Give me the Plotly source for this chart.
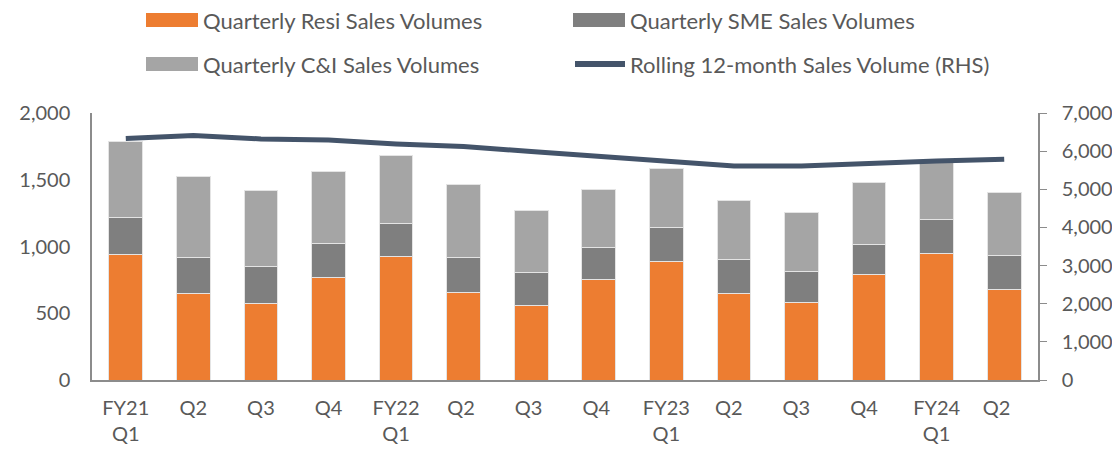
import plotly.graph_objects as go

# quarter labels (two-line ticks)
quarters = ['FY21<br>Q1', 'Q2', 'Q3', 'Q4', 'FY22<br>Q1', 'Q2 ', 'Q3 ', 'Q4 ',
            'FY23<br>Q1', 'Q2  ', 'Q3  ', 'Q4  ', 'FY24<br>Q1', 'Q2   ']

resi = [942, 646, 573, 771, 927, 653, 560, 754, 886, 649, 579, 789, 951, 679]
sme = [272, 274, 274, 254, 247, 267, 242, 237, 253, 250, 233, 227, 255, 250]
ci = [575, 603, 570, 538, 507, 545, 465, 435, 444, 444, 444, 465, 427, 477]
rolling = [6330, 6410, 6320, 6290, 6190, 6120, 5990, 5860, 5750, 5610, 5610, 5690, 5740, 5790]

names = ['Quarterly Resi Sales Volumes', 'Quarterly SME Sales Volumes',
         'Quarterly C&I Sales Volumes', 'Rolling 12-month Sales Volume (RHS)']
colors = ['#ED7D31', '#7F7F7F', '#A5A5A5', '#44546A']

FONT = 'Lato, Open Sans, sans-serif'
TXT = '#595959'

fig = go.Figure()
for vals, nm, c in zip([resi, sme, ci], names[:3], colors[:3]):
    fig.add_trace(go.Bar(x=quarters, y=vals, name=nm, marker_color=c,
                         marker_line=dict(color='#E4E4E4', width=1)))
fig.add_trace(go.Scatter(x=quarters, y=rolling, name=names[3], yaxis='y2',
                         mode='lines', line=dict(color=colors[3], width=5)))

# the page body has an 8px margin all round, so keep the figure inside it
OFF = 8
W, H = 1120 - 2 * OFF, 452 - 2 * OFF
L, R, T, B = 92 - OFF, 1038 - OFF, 113 - OFF, 380 - OFF
def px(x):
    return (x - OFF - L) / (R - L)
def py(y):
    return (B - (y - OFF)) / (B - T)

# hand-made legend (wide swatches like the original)
shapes = []
annotations = []
slots = [(146, 20), (573, 20), (146, 64), (573, 64)]
for i, (sx, sy) in enumerate(slots):
    if i < 3:
        shapes.append(dict(type='rect', xref='paper', yref='paper',
                           x0=px(sx), x1=px(sx + 52), y0=py(sy - 7), y1=py(sy + 7),
                           fillcolor=colors[i], line=dict(width=0)))
    else:
        shapes.append(dict(type='line', xref='paper', yref='paper',
                           x0=px(sx + 2), x1=px(sx + 52), y0=py(sy), y1=py(sy),
                           line=dict(color=colors[i], width=6)))
    annotations.append(dict(xref='paper', yref='paper', x=px(sx + 55), y=py(sy),
                            xanchor='left', yanchor='middle', showarrow=False,
                            text=names[i], font=dict(size=22, color=TXT, family=FONT)))

fig.update_layout(
    width=W, height=H,
    margin=dict(l=L, r=W - R, t=T, b=H - B),
    barmode='stack', bargap=0.5,
    plot_bgcolor='white', paper_bgcolor='white',
    showlegend=False,
    font=dict(family=FONT, size=20, color=TXT),
    xaxis=dict(showline=True, linecolor='#8C8C8C', linewidth=1.5, showgrid=False,
               automargin=False, ticks='', ticklabelstandoff=9,
               tickfont=dict(size=20, color=TXT)),
    yaxis=dict(range=[0, 2000], dtick=500, tickformat=',', showgrid=False,
               automargin=False, showline=True, linecolor='#8C8C8C', linewidth=1.5,
               ticks='', ticklabelstandoff=16, zeroline=False),
    yaxis2=dict(range=[0, 7000], dtick=1000, tickformat=',', overlaying='y', side='right',
                automargin=False, showgrid=False, showline=True, linecolor='#8C8C8C',
                linewidth=1.5, ticks='outside', ticklen=7, tickcolor='#8C8C8C',
                ticklabelstandoff=11, zeroline=False),
    shapes=shapes, annotations=annotations,
)

fig.write_html("out.html")
